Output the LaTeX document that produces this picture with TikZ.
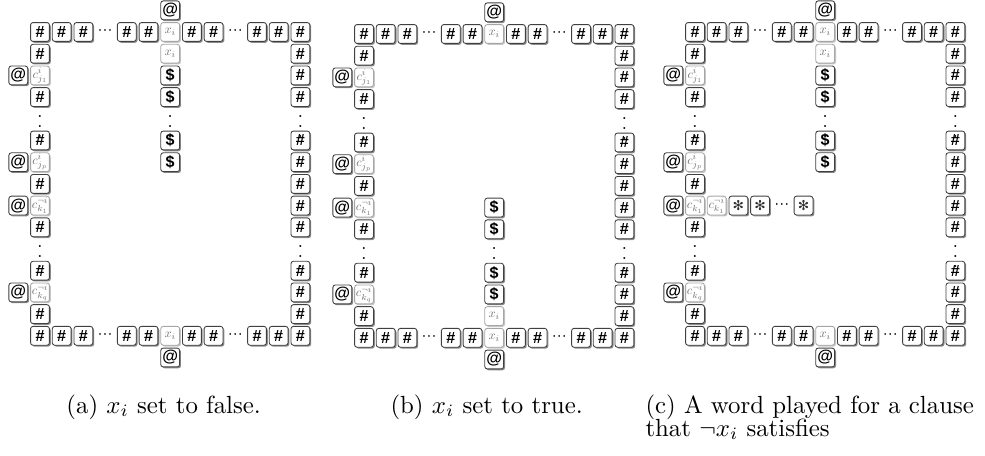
\documentclass[tikz,border=0pt]{standalone}
\usepackage{fontspec}
\usepackage{graphicx}
\newfontfamily\tilefont{Liberation Sans}
\newfontfamily\symfont{DejaVu Sans}
\usetikzlibrary{shadows}
\newcommand{\gh}[1]{\scalebox{0.5}{$#1$}}
\tikzset{
  tilebase/.style={rounded corners=1pt, minimum width=7.6pt, minimum height=7.6pt,
    inner sep=0pt, line width=0.35pt, fill=white},
  tile/.style={tilebase, draw=black!75,
    font=\tilefont\bfseries\fontsize{6.5}{6.5}\selectfont,
    general shadow={fill=black!45, shadow xshift=0.55pt, shadow yshift=-0.55pt}},
  ghost/.style={tilebase, draw=black!35, text=black!55,
    font=\fontsize{10}{10}\selectfont,
    general shadow={fill=black!22, shadow xshift=0.55pt, shadow yshift=-0.55pt}},
  startile/.style={tile, font=\symfont\fontsize{5.5}{5.5}\selectfont, text=black!80},
  hdots/.style={inner sep=0pt, font=\tilefont\fontsize{6}{6}\selectfont},
  vdotsn/.style={inner sep=0pt, font=\fontsize{7}{7}\selectfont},
  captext/.style={inner sep=0pt, anchor=base west, font=\fontsize{10}{12}\selectfont}
}
\begin{document}
\begin{tikzpicture}[x=0.403pt,y=-0.403pt]
\useasboundingbox (0,0) rectangle (985,456);
\foreach \p/\ox/\oy in {a/40/32, b/364/34, c/695/32}{
  \begin{scope}[shift={(\ox,\oy)}, x=8.745pt, y=-8.745pt]
    % top and bottom rows
    \foreach \c in {0,1,2,4,5,7,8,10,11,12}{
      \node[tile] (\p-t\c) at (\c,0) {\#};
      \node[tile] (\p-b\c) at (\c,14) {\#};
    }
    \foreach \c in {3,9}{
      \node[hdots] (\p-td\c) at (\c,0) {···};
      \node[hdots] (\p-bd\c) at (\c,14) {···};
    }
    \node[ghost] (\p-t6) at (6,0) {\gh{x_i}};
    \node[ghost] (\p-b6) at (6,14) {\gh{x_i}};
    \node[tile] (\p-at) at (6,-1) {@};
    \node[tile] (\p-ab) at (6,15) {@};
    % left column
    \foreach \r in {1,3,5,7,9,11,13}{
      \node[tile] (\p-l\r) at (0,\r) {\#};
    }
    \node[ghost] (\p-l2) at (0,2) {\gh{c^{i}_{j_1}}};
    \node[ghost] (\p-l6) at (0,6) {\gh{c^{i}_{j_p}}};
    \node[ghost] (\p-l8) at (0,8) {\gh{c^{\neg i}_{k_1}}};
    \node[ghost] (\p-l12) at (0,12) {\gh{c^{\neg i}_{k_q}}};
    \foreach \r in {2,6,8,12}{
      \node[tile] (\p-la\r) at (-1,\r) {@};
    }
    % right column
    \foreach \r in {1,2,3,5,6,7,8,9,11,12,13}{
      \node[tile] (\p-r\r) at (12,\r) {\#};
    }
    \foreach \r in {4,10}{
      \node[vdotsn] (\p-lv\r) at (0,\r) {$\vdots$};
      \node[vdotsn] (\p-rv\r) at (12,\r) {$\vdots$};
    }
  \end{scope}
}
% middle columns of (a) and (c)
\foreach \p/\ox/\oy in {a/40/32, c/695/32}{
  \begin{scope}[shift={(\ox,\oy)}, x=8.745pt, y=-8.745pt]
    \node[ghost] (\p-m1) at (6,1) {\gh{x_i}};
    \foreach \r in {2,3,5,6}{
      \node[tile] (\p-m\r) at (6,\r) {\$};
    }
    \node[vdotsn] (\p-mv4) at (6,4) {$\vdots$};
  \end{scope}
}
% middle column of (b)
\begin{scope}[shift={(364,34)}, x=8.745pt, y=-8.745pt]
  \foreach \r in {8,9,11,12}{
    \node[tile] (b-m\r) at (6,\r) {\$};
  }
  \node[vdotsn] (b-mv10) at (6,10) {$\vdots$};
  \node[ghost] (b-m13) at (6,13) {\gh{x_i}};
\end{scope}
% word played in (c)
\begin{scope}[shift={(695,32)}, x=8.745pt, y=-8.745pt]
  \node[ghost] (c-w1) at (1,8) {\gh{c^{\neg i}_{k_1}}};
  \node[startile] (c-w2) at (2,8) {✻};
  \node[startile] (c-w3) at (3,8) {✻};
  \node[hdots] (c-wd) at (4,8) {···};
  \node[startile] (c-w5) at (5,8) {✻};
\end{scope}
% captions
\node[captext] (capa) at (66,413) {(a) $x_i$ set to false.};
\node[captext] (capb) at (390,413) {(b) $x_i$ set to true.};
\node[captext] (capc1) at (645,413) {(c) A word played for a clause};
\node[captext] (capc2) at (645,436) {that $\neg x_i$ satisfies};
\end{tikzpicture}
\end{document}
